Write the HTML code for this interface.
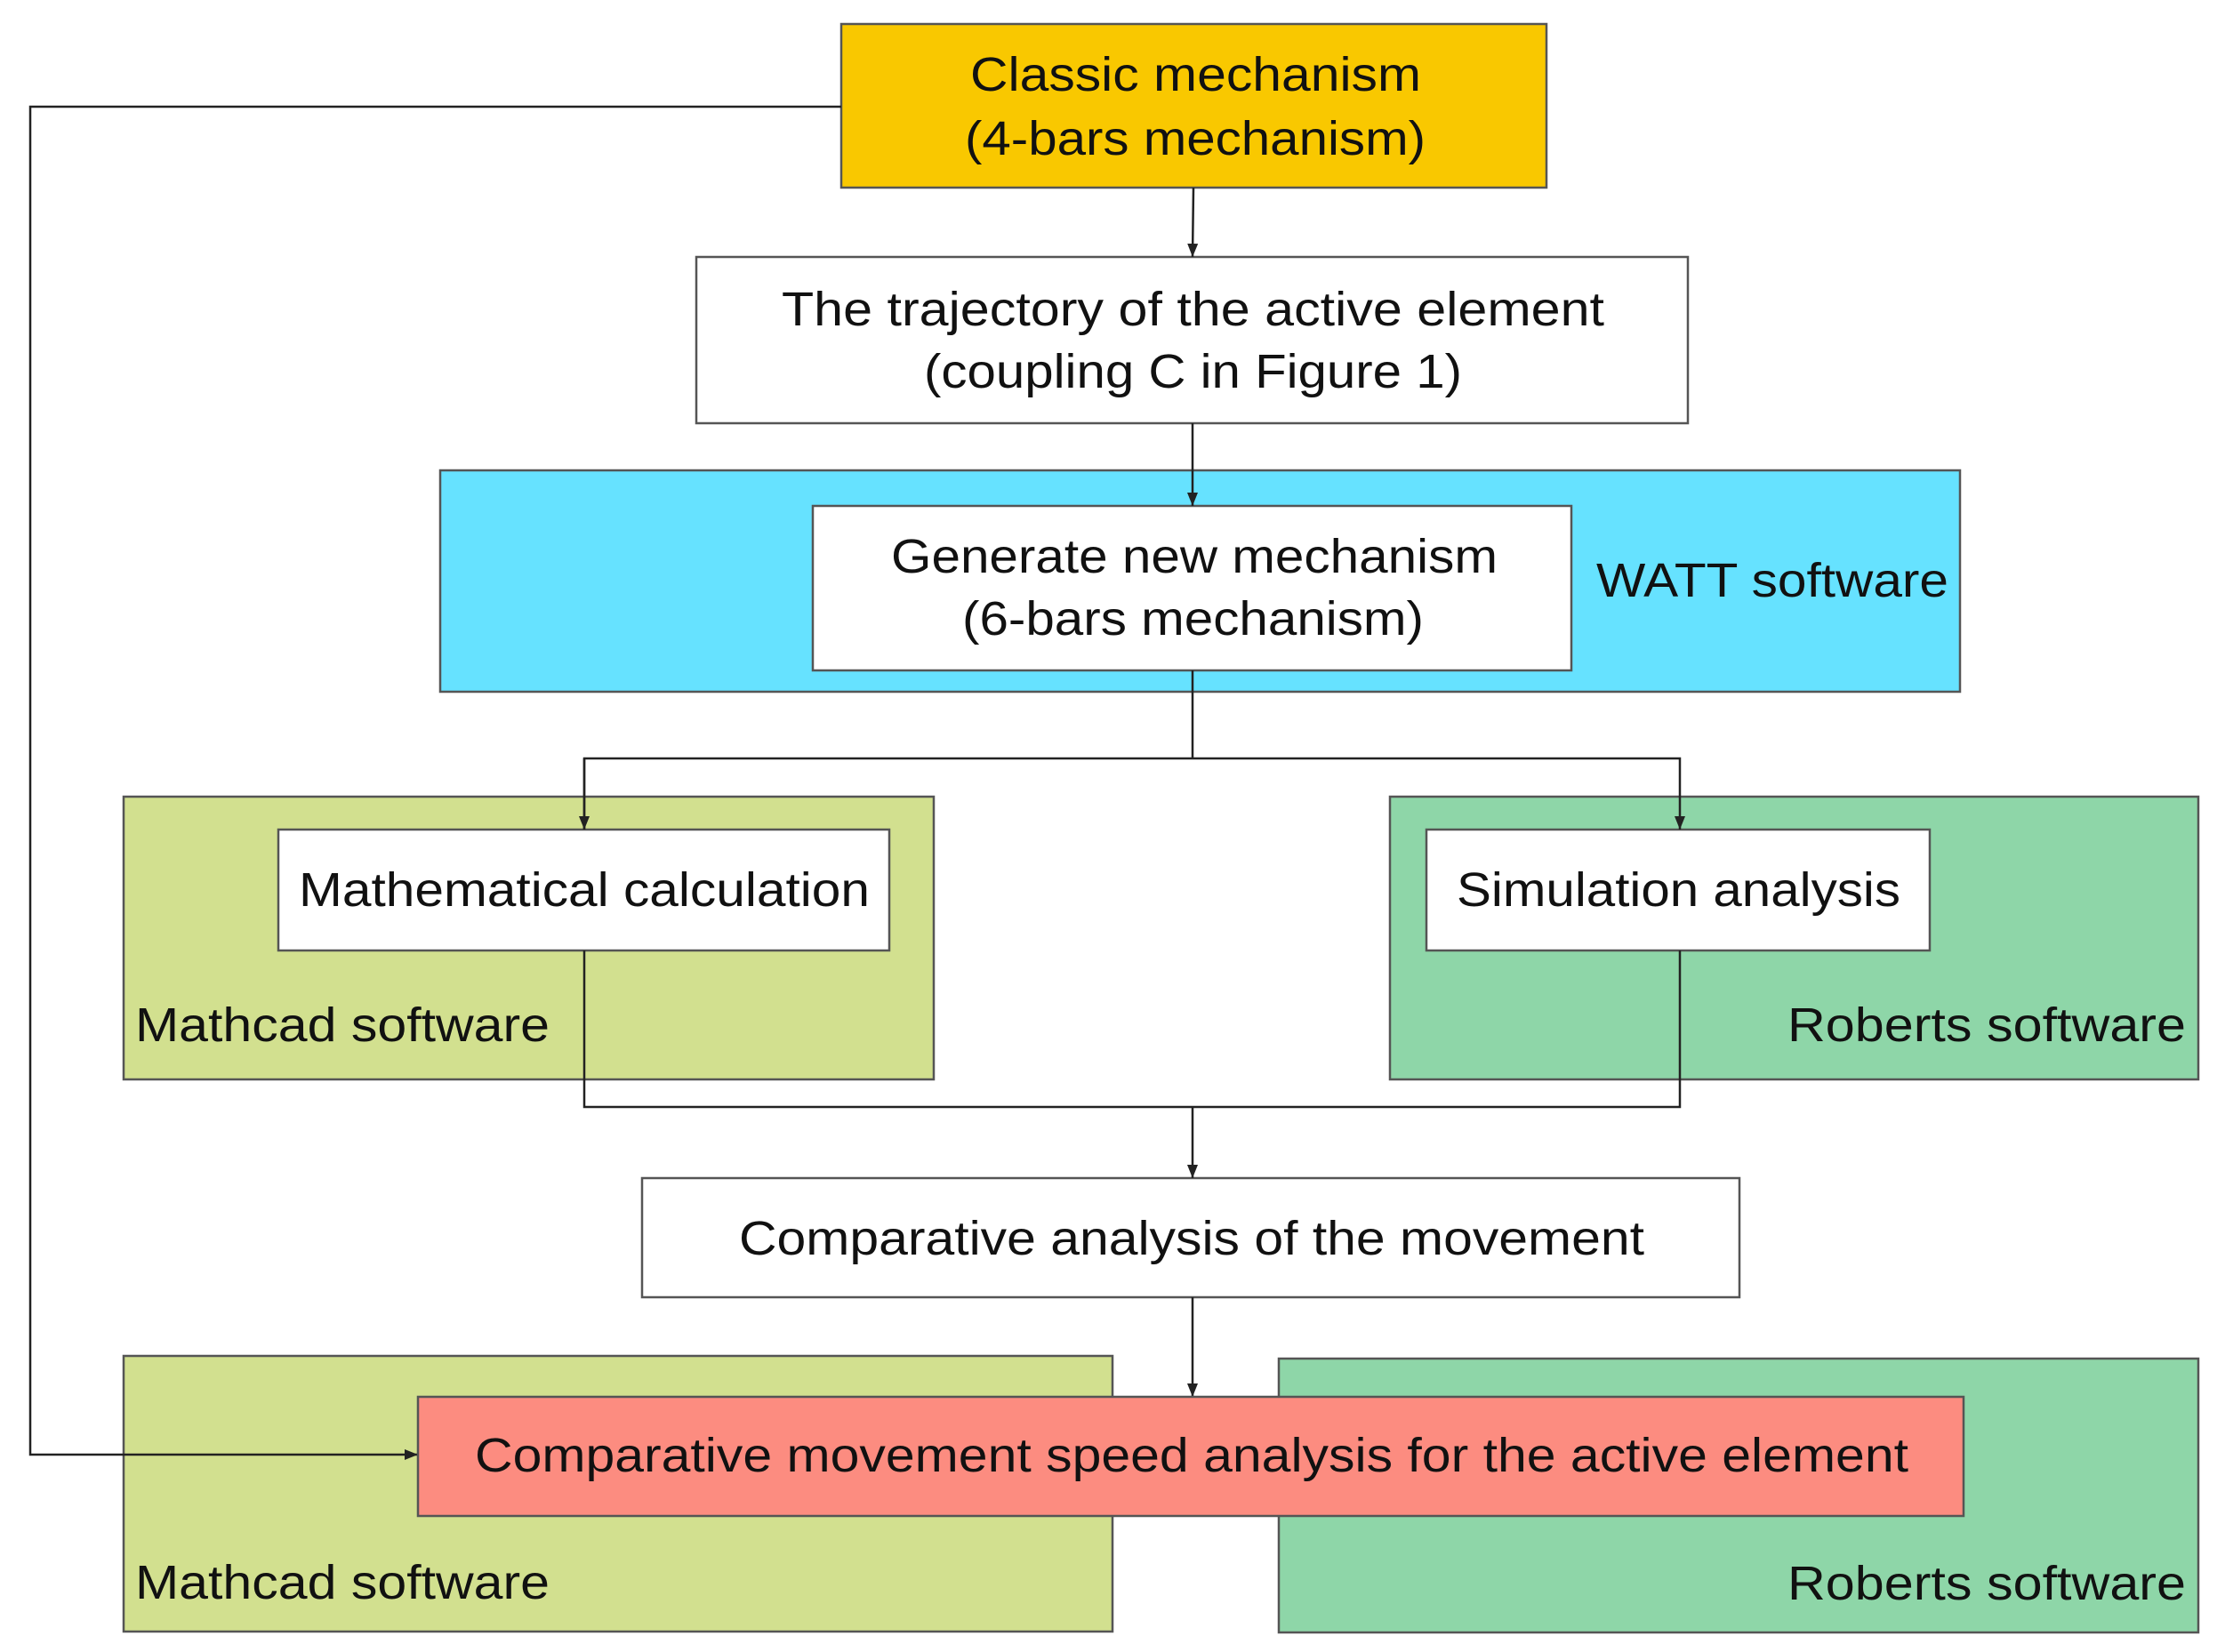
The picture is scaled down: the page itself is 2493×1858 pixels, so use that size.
<!DOCTYPE html>
<html><head><style>html,body{margin:0;padding:0;background:#fff}svg{display:block}</style></head><body>
<svg width="2493" height="1858" viewBox="0 0 2493 1858" xmlns="http://www.w3.org/2000/svg" font-family="Liberation Sans, Arial, sans-serif" font-size="54" fill="#111">
<defs><marker id="a" markerWidth="10" markerHeight="10" refX="9" refY="5" orient="auto" markerUnits="userSpaceOnUse"><path d="M0,0 L10,5 L0,10 z" fill="#222"/></marker>
<marker id="b" markerWidth="16" markerHeight="16" refX="15" refY="8" orient="auto" markerUnits="userSpaceOnUse"><path d="M0,2 L15,8 L0,14 z" fill="#222"/></marker></defs>
<g stroke="#555" stroke-width="2.5">
<rect x="495" y="529" width="1709" height="249" fill="#66E2FF"/>
<rect x="139" y="896" width="911" height="318" fill="#D2E08F"/>
<rect x="1563" y="896" width="909" height="318" fill="#8ED6A8"/>
<rect x="139" y="1525" width="1112" height="310" fill="#D2E08F"/>
<rect x="1438" y="1528" width="1034" height="308" fill="#8ED6A8"/>
<rect x="946" y="27" width="793" height="184" fill="#F9C800"/>
<rect x="783" y="289" width="1115" height="187" fill="#fff"/>
<rect x="914" y="569" width="853" height="185" fill="#fff"/>
<rect x="313" y="933" width="687" height="136" fill="#fff"/>
<rect x="1604" y="933" width="566" height="136" fill="#fff"/>
<rect x="722" y="1325" width="1234" height="134" fill="#fff"/>
</g>
<g stroke="#222" stroke-width="2.5" fill="none">
<line x1="1342" y1="211" x2="1341" y2="289" marker-end="url(#b)"/>
<line x1="1341" y1="476" x2="1341" y2="569" marker-end="url(#b)"/>
<polyline points="1341,754 1341,853"/>
<polyline points="657,933 657,853 1889,853 1889,933" marker-end="url(#b)"/>
<line x1="657" y1="853" x2="657" y2="933" marker-end="url(#b)"/>
<polyline points="657,1069 657,1245 1889,1245 1889,1069"/>
<line x1="1341" y1="1245" x2="1341" y2="1325" marker-end="url(#b)"/>
<line x1="1341" y1="1459" x2="1341" y2="1571" marker-end="url(#b)"/>
<polyline points="946,120 34,120 34,1636 470,1636" marker-end="url(#b)"/>
</g>
<rect x="470" y="1571" width="1738" height="134" fill="#FC8C80" stroke="#555" stroke-width="2.5"/>
<g>
<text x="1091" y="102" textLength="507" lengthAdjust="spacingAndGlyphs">Classic mechanism</text>
<text x="1085" y="174" textLength="518" lengthAdjust="spacingAndGlyphs">(4-bars mechanism)</text>
<text x="879" y="366" textLength="925" lengthAdjust="spacingAndGlyphs">The trajectory of the active element</text>
<text x="1039" y="436" textLength="605" lengthAdjust="spacingAndGlyphs">(coupling C in Figure 1)</text>
<text x="1002" y="644" textLength="682" lengthAdjust="spacingAndGlyphs">Generate new mechanism</text>
<text x="1082" y="714" textLength="519" lengthAdjust="spacingAndGlyphs">(6-bars mechanism)</text>
<text x="1795" y="671" textLength="396" lengthAdjust="spacingAndGlyphs">WATT software</text>
<text x="336" y="1019" textLength="642" lengthAdjust="spacingAndGlyphs">Mathematical calculation</text>
<text x="1638" y="1019" textLength="499" lengthAdjust="spacingAndGlyphs">Simulation analysis</text>
<text x="152" y="1171" textLength="466" lengthAdjust="spacingAndGlyphs">Mathcad software</text>
<text x="2010" y="1171" textLength="448" lengthAdjust="spacingAndGlyphs">Roberts software</text>
<text x="831" y="1411" textLength="1018" lengthAdjust="spacingAndGlyphs">Comparative analysis of the movement</text>
<text x="534" y="1655" textLength="1612" lengthAdjust="spacingAndGlyphs">Comparative movement speed analysis for the active element</text>
<text x="152" y="1798" textLength="466" lengthAdjust="spacingAndGlyphs">Mathcad software</text>
<text x="2010" y="1799" textLength="448" lengthAdjust="spacingAndGlyphs">Roberts software</text>
</g>
</svg>
</body></html>
